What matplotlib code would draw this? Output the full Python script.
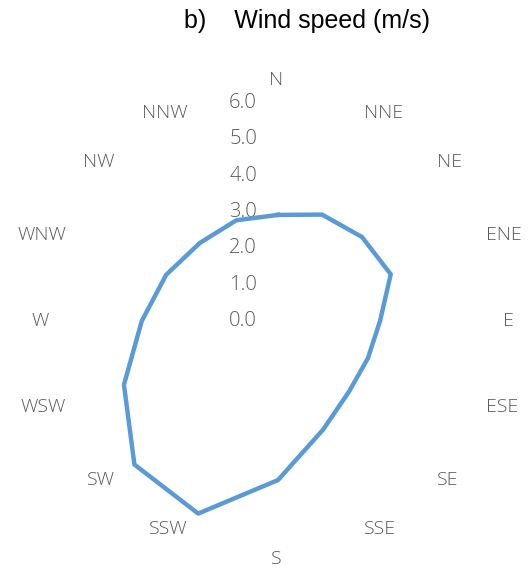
import matplotlib.pyplot as plt
import matplotlib.transforms as mtransforms
import numpy as np

# Данные - скорость ветра по направлениям
directions = ['N', 'NNE', 'NE', 'ENE', 'E', 'ESE', 'SE', 'SSE',
              'S', 'SSW', 'SW', 'WSW', 'W', 'WNW', 'NW', 'NNW']
speed = [2.92, 3.17, 3.27, 3.36, 2.81, 2.68, 2.76, 3.24,
         4.38, 5.74, 5.59, 4.59, 3.75, 3.33, 3.04, 3.00]
r_ticks = [0, 1, 2, 3, 4, 5, 6]

fig = plt.figure(figsize=(5.3, 5.69), dpi=100)
ax = fig.add_axes([0.1132, 0.0529, 0.8226, 0.766], projection='polar')
ax.set_theta_zero_location('N')
ax.set_theta_direction(-1)

theta = np.linspace(0, 2 * np.pi, len(directions), endpoint=False)
th = np.append(theta, theta[0])
vals = np.append(speed, speed[0])
ax.plot(th, vals, color='#5B9BD5', linewidth=3.2, solid_joinstyle='round', zorder=5)

ax.set_ylim(0, 6)
ax.grid(False)
ax.spines['polar'].set_visible(False)
ax.set_xticks([])
ax.set_yticks([])
ax.patch.set_alpha(0)

font = 'Open Sans'
gray = '#595959'

# Подписи направлений (как в Excel - край подписи у окружности)
for t, name in zip(theta, directions):
    s, c = np.sin(t), np.cos(t)
    if s > 0.1:
        ha, dx, dy = 'left', 0, 0
    elif s < -0.1:
        ha, dx, dy = 'right', -4, 0
    else:
        ha, dx, dy = 'center', -2, 16 * c if c > 0 else 13 * c
    ax.annotate(name, xy=(t, 6.2), xytext=(dx, dy), textcoords='offset pixels',
                ha=ha, va='center', fontsize=14, color=gray, family=font,
                fontweight='light', annotation_clip=False)

# Подписи радиальной оси (слева от оси N)
tr = mtransforms.offset_copy(ax.transData, fig=fig, x=-21, y=0, units='dots')
for v in r_ticks:
    ax.text(0, v, f'{v:.1f}', transform=tr, ha='right', va='center',
            fontsize=14.5, color=gray, family=font, fontweight='light', zorder=1)

fig.text(0.579, 0.963, 'b)    Wind speed (m/s)', ha='center', va='center',
         fontsize=18, family='Liberation Sans', color='black')

plt.savefig('out.png', dpi=100)
